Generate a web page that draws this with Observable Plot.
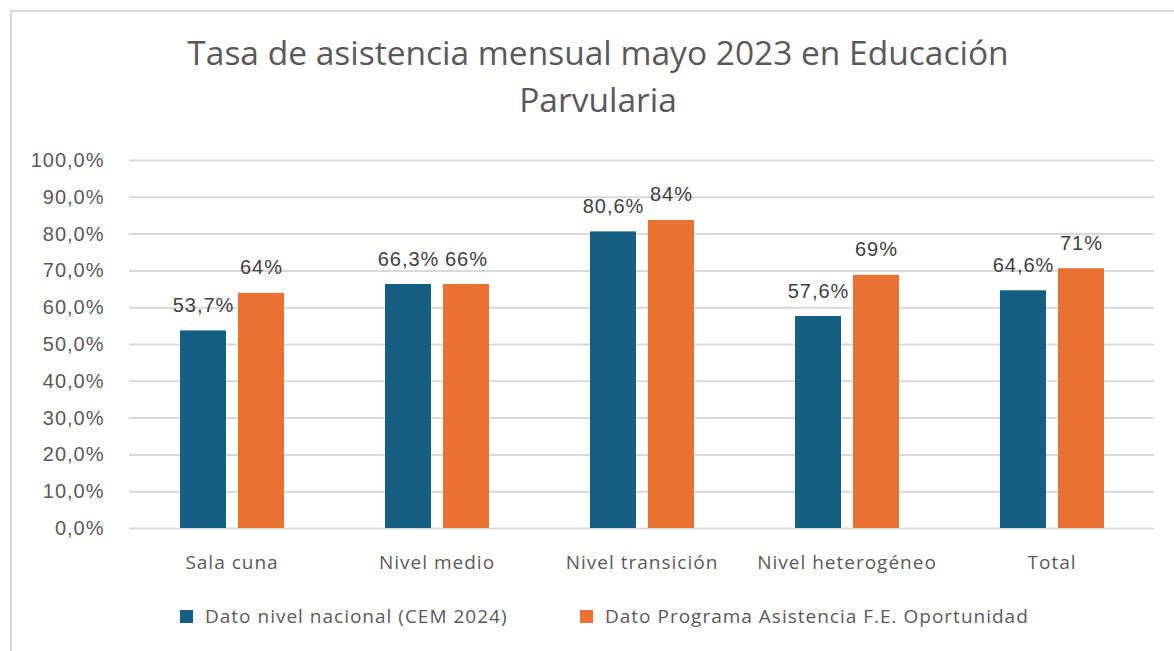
<!DOCTYPE html>
<html>
<head>
<meta charset="utf-8">
<script src="https://cdn.jsdelivr.net/npm/d3@7"></script>
<script src="https://cdn.jsdelivr.net/npm/@observablehq/plot@0.6"></script>
<style>
  body { margin: 0; background: #fff; width: 1174px; height: 651px; overflow: hidden; position: relative; }
  #frame { position: absolute; left: 10px; top: 10px; width: 1200px; height: 700px; border-top: 2px solid #d9d9d9; border-left: 2px solid #d9d9d9; }
  #title { position: absolute; left: 0; top: 29px; width: 1196px; text-align: center; font-family: "Open Sans", sans-serif; font-size: 33.5px; line-height: 47px; color: #595959; }
  #chart { position: absolute; left: 0; top: 130px; }
  #legend { position: absolute; top: 603px; left: 0; width: 1174px; height: 26px; font-family: "Open Sans", sans-serif; font-size: 19px; letter-spacing: 1px; color: #595959; }
  .item { position: absolute; top: 0; display: flex; align-items: center; height: 26px; white-space: nowrap; }
  .sw { width: 13px; height: 13px; margin-right: 12px; }
</style>
</head>
<body>
<div id="frame"></div>
<div id="title">Tasa de asistencia mensual mayo 2023 en Educación<br>Parvularia</div>
<div id="chart"></div>
<div id="legend"></div>
<script>
const categories = ["Sala cuna", "Nivel medio", "Nivel transición", "Nivel heterogéneo", "Total"];
const seriesNames = ["Dato nivel nacional (CEM 2024)", "Dato Programa Asistencia F.E. Oportunidad"];
const nacional = [53.7, 66.3, 80.6, 57.6, 64.6];
const programa = [63.9, 66.3, 83.7, 68.8, 70.6];
const decimals = [1, 0];
const colors = ["#156082", "#E97132"];
const yTicks = [0, 10, 20, 30, 40, 50, 60, 70, 80, 90, 100];

const data = [];
categories.forEach((c, i) => {
  data.push({cat: c, series: seriesNames[0], value: nacional[i], dec: decimals[0]});
  data.push({cat: c, series: seriesNames[1], value: programa[i], dec: decimals[1]});
});
const fmt = (v, d) => v.toFixed(d).replace(".", ",") + "%";

const chart = Plot.plot({
  width: 1174,
  height: 450,
  marginTop: 30,
  marginBottom: 52,
  marginLeft: 128,
  marginRight: 19,
  style: {fontFamily: "Liberation Sans, Arial, sans-serif", fontSize: "20px", color: "#595959", background: "transparent", letterSpacing: "1px"},
  fx: {domain: categories, padding: 0, label: null, axis: null},
  x: {domain: seriesNames, paddingInner: 0.207, paddingOuter: 0.87, axis: null},
  y: {domain: [0, 100], label: null},
  color: {domain: seriesNames, range: colors},
  marks: [
    Plot.gridY(yTicks, {stroke: "#d9d9d9", strokeOpacity: 1, strokeWidth: 2}),
    Plot.axisY(yTicks, {tickSize: 0, tickPadding: 25, tickFormat: d => fmt(d, 1), fill: "#595959", fontSize: 20}),
    Plot.axisFx({anchor: "bottom", tickSize: 0, tickPadding: 27, fontFamily: "Open Sans, sans-serif", fontSize: 19, fill: "#595959", label: null}),
    Plot.barY(data, {fx: "cat", x: "series", y: "value", fill: "series"}),
    Plot.text(data, {fx: "cat", x: "series", y: "value", text: d => fmt(d.value, d.dec), lineAnchor: "bottom", dy: -19, fill: "#404040", fontSize: 20})
  ]
});
document.getElementById("chart").appendChild(chart);

const legend = document.getElementById("legend");
const legendX = [180, 580];
seriesNames.forEach((s, i) => {
  const it = document.createElement("div");
  it.className = "item";
  it.style.left = legendX[i] + "px";
  it.innerHTML = `<span class="sw" style="background:${colors[i]}"></span><span>${s}</span>`;
  legend.appendChild(it);
});
</script>
</body>
</html>
